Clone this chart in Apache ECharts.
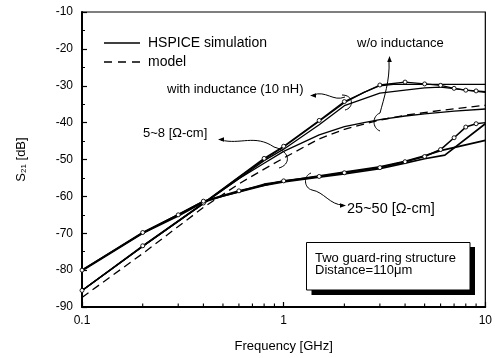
<!DOCTYPE html>
<html>
<head>
<meta charset="utf-8">
<script src="https://cdn.jsdelivr.net/npm/echarts@6/dist/echarts.min.js"></script>
<style>
html,body{margin:0;padding:0;background:#fff;}
#c{width:495px;height:358px;}
</style>
</head>
<body>
<div id="c"></div>
<script>
// ---- data (frequency in GHz, S21 in dB) ----
const legendNames = ['HSPICE simulation', 'model'];
const yTicks = [-90, -80, -70, -60, -50, -40, -30, -20, -10];
const xMinorTickValues = [0.2, 0.3, 0.4, 0.5, 0.6, 0.7, 0.8, 0.9, 2, 3, 4, 5, 6, 7, 8, 9];

// 5~8 ohm-cm, with inductance (flat top)
const fL2 = [0.1, 0.2, 0.4, 0.6, 0.8, 1, 1.5, 2, 2.5, 3, 3.5, 4, 6, 10];
const sL2 = [-85.5, -73.6, -61.9, -54.8, -50.0, -46.6, -39.6, -34.6, -31.8, -30.0, -29.6, -29.6, -29.6, -29.6];
// 5~8 ohm-cm, model without inductance (dashed)
const fModel = [0.1, 0.2, 0.4, 0.6, 0.8, 1, 1.5, 2, 3, 4, 6, 10];
const sModel = [-87.4, -75.5, -63.0, -56.6, -52.6, -49.6, -44.4, -41.8, -39.3, -38.0, -36.7, -35.3];
// 5~8 ohm-cm, with inductance (peaked, circles)
const fL1 = [0.1, 0.2, 0.4, 0.8, 1, 1.5, 2, 3, 4, 5, 6, 7, 8, 9];
const sL1 = [-85.5, -73.4, -61.8, -49.7, -46.4, -39.4, -34.3, -29.8, -29.0, -29.5, -29.9, -30.7, -31.2, -31.4];
const fL1end = [9, 10];
const sL1end = [-31.4, -31.6];
// 5~8 ohm-cm, with inductance (lower)
const fL3 = [0.1, 0.2, 0.4, 0.8, 1, 1.5, 2, 3, 4, 5, 6, 7, 8, 10];
const sL3 = [-85.6, -73.6, -62.0, -50.3, -47.2, -40.6, -35.4, -32.0, -31.2, -30.6, -30.4, -30.8, -31.2, -31.8];
// 5~8 ohm-cm, without inductance (solid)
const fW = [0.1, 0.2, 0.4, 0.6, 0.8, 1, 1.5, 2, 2.5, 3, 4, 5, 7, 10];
const sW = [-85.5, -73.5, -61.9, -55.2, -51.0, -47.8, -43.3, -41.1, -40.0, -39.2, -38.2, -37.6, -36.9, -36.3];
// 25~50 ohm-cm (circles)
const fB1 = [0.1, 0.2, 0.3, 0.4, 0.6, 1, 1.5, 2, 3, 4, 5, 6, 7, 8, 9];
const sB1 = [-80.0, -69.8, -65.0, -61.3, -58.5, -55.8, -54.6, -53.6, -52.2, -50.6, -49.2, -47.3, -44.1, -41.2, -40.3];
const fB1end = [9, 10];
const sB1end = [-40.3, -40.0];
// 25~50 ohm-cm
const fB2 = [0.1, 0.2, 0.3, 0.4, 0.5, 0.6, 0.8, 1, 1.5, 2, 3, 4, 5, 6.3, 10];
const sB2 = [-80.2, -70.0, -65.3, -61.6, -59.9, -58.8, -57.0, -56.1, -54.8, -53.9, -52.5, -51.0, -49.8, -48.8, -40.3];
const fB3 = [0.1, 0.2, 0.4, 0.6, 0.8, 1, 2, 3, 4, 5, 6, 10];
const sB3 = [-80.0, -69.9, -61.4, -58.7, -56.7, -55.9, -53.4, -52.0, -50.5, -49.0, -47.6, -44.8];

function zip(f, s) { return f.map((v, i) => [v, s[i]]); }

const FONT = '"Liberation Sans", Arial, sans-serif';
const chart = echarts.init(document.getElementById('c'), null, {renderer: 'canvas'});

const solid = (name, data, opts) => Object.assign({
  type: 'line', name: name, data: data, symbol: 'none', smooth: false,
  lineStyle: {color: '#000', width: 1.3, type: 'solid'},
  itemStyle: {color: '#fff', borderColor: '#000', borderWidth: 0.9},
  z: 3, silent: true
}, opts || {});
const circles = {symbol: 'circle', symbolSize: 4, showSymbol: true};

const legendSolidIcon = 'path://M0,0h36v1.5h-36z';
const legendDashIcon = 'path://M0,0h8v1.5h-8z M14,0h8v1.5h-8z M28,0h8v1.5h-8z';
const legendStyle = {color: '#000', borderColor: '#000', borderWidth: 0};

chart.setOption({
  animation: false,
  backgroundColor: '#fff',
  grid: {left: 82, right: 7, top: 12, bottom: 48, show: true, borderColor: '#000', borderWidth: 1.2, backgroundColor: 'transparent'},
  legend: {
    data: [
      {name: legendNames[0], icon: legendSolidIcon, itemStyle: legendStyle},
      {name: legendNames[1], icon: legendDashIcon, itemStyle: legendStyle}
    ],
    left: 99, top: 31, orient: 'vertical', itemWidth: 36, itemHeight: 14, itemGap: 5, symbolKeepAspect: true,
    itemStyle: legendStyle, lineStyle: {width: 0},
    textStyle: {fontFamily: FONT, fontSize: 14, color: '#000', padding: [0, 0, 0, 3]},
    selectedMode: false
  },
  xAxis: {
    type: 'log', logBase: 10, min: 0.1, max: 10,
    name: 'Frequency [GHz]', nameLocation: 'middle', nameGap: 33,
    nameTextStyle: {fontFamily: FONT, fontSize: 13, color: '#000'},
    axisLine: {lineStyle: {color: '#000', width: 1.8}},
    axisTick: {inside: true, length: 5, lineStyle: {color: '#000', width: 1.2}},
    axisLabel: {fontFamily: FONT, fontSize: 12, color: '#000', margin: 8},
    splitLine: {show: false}, minorTick: {show: false}
  },
  yAxis: {
    type: 'value', min: yTicks[0], max: yTicks[yTicks.length - 1], interval: 10,
    name: 'S{sub|21} [dB]', nameLocation: 'middle', nameGap: 54, nameRotate: 90,
    nameTextStyle: {fontFamily: FONT, fontSize: 13, color: '#000',
      rich: {sub: {fontFamily: FONT, fontSize: 8, color: '#000', verticalAlign: 'bottom', padding: [6, 0, 0, 0]}}},
    axisLine: {lineStyle: {color: '#000', width: 2}},
    axisTick: {inside: true, length: 5, lineStyle: {color: '#000', width: 1.2}},
    minorTick: {show: true, splitNumber: 2, length: 3, lineStyle: {color: '#000', width: 1}},
    axisLabel: {fontFamily: FONT, fontSize: 12, color: '#000', margin: 9},
    splitLine: {show: false}
  },
  series: [
    solid(legendNames[0], zip(fL2, sL2)),
    solid(legendNames[1], zip(fModel, sModel), {lineStyle: {color: '#000', width: 1.3, type: [8, 5]}}),
    solid(legendNames[0], zip(fL1, sL1), circles),
    solid(legendNames[0], zip(fL1end, sL1end)),
    solid(legendNames[0], zip(fL3, sL3)),
    solid(legendNames[0], zip(fW, sW)),
    solid(legendNames[0], zip(fB2, sB2), {lineStyle: {color: '#000', width: 1.7}}),
    solid(legendNames[0], zip(fB3, sB3), {lineStyle: {color: '#000', width: 1.7}}),
    solid(legendNames[0], zip(fB1, sB1), Object.assign({lineStyle: {color: '#000', width: 1.6}}, circles)),
    solid(legendNames[0], zip(fB1end, sB1end), {lineStyle: {color: '#000', width: 1.5}})
  ]
});

// ---- decorations: minor log ticks, annotations, arrows, box ----
const g = [];
const yBottom = chart.convertToPixel({yAxisIndex: 0}, yTicks[0]);
xMinorTickValues.forEach(v => {
  const x = chart.convertToPixel({xAxisIndex: 0}, v);
  g.push({type: 'line', shape: {x1: x, y1: yBottom, x2: x, y2: yBottom - 3.5}, style: {stroke: '#000', lineWidth: 1.1}, z: 10});
});

function txt(x, y, s, size) {
  g.push({type: 'text', x: x, y: y, z: 20,
    style: {text: s, fontFamily: FONT, fontSize: size, fill: '#000', verticalAlign: 'middle', align: 'left'}});
}
function curve(p, lw) {
  g.push({type: 'bezierCurve', z: 15, shape: {x1: p[0], y1: p[1], cpx1: p[2], cpy1: p[3], cpx2: p[4], cpy2: p[5], x2: p[6], y2: p[7]},
    style: {stroke: '#000', lineWidth: lw || 1, fill: null}});
}
function head(x, y, ang) {
  const L = 6, W = 2.3;
  const c = Math.cos(ang), s = Math.sin(ang);
  const bx = x - L * c, by = y - L * s;
  g.push({type: 'polygon', z: 16, shape: {points: [[x, y], [bx - W * s, by + W * c], [bx + W * s, by - W * c]]}, style: {fill: '#000'}});
}

txt(167, 89, 'with inductance (10 nH)', 13);
txt(357, 43, 'w/o inductance', 13);
txt(143, 133, '5~8 [\u03A9-cm]', 13);
txt(347, 209, '25~50 [\u03A9-cm]', 14.5);

// with inductance arrow + bracket
curve([313, 95, 326, 90, 333, 102, 345, 97]);
head(310, 95.5, Math.PI);
curve([342, 95, 354, 95, 354, 108, 345, 110]);
// w/o inductance arrow + bracket
curve([389, 61, 390, 80, 384, 98, 380, 113]);
head(389.5, 56, -Math.PI / 2);
curve([380, 113, 372, 116, 372, 128, 380, 131]);
// 5~8 arrow + bracket
curve([221, 140, 240, 145, 255, 134, 274, 147]);
head(218, 139.5, Math.PI);
curve([274, 147, 292, 152, 290, 165, 279, 168]);
// 25~50 arrow + bracket
curve([311, 173, 303, 176, 304, 188, 312, 190]);
curve([312, 190, 324, 192, 330, 205, 343, 205]);
head(346, 205.5, 0);

// box with shadow
g.push({type: 'rect', z: 18, shape: {x: 311.5, y: 247, width: 163.5, height: 48}, style: {fill: '#000'}});
g.push({type: 'rect', z: 19, shape: {x: 306.5, y: 242.5, width: 163.5, height: 47.5}, style: {fill: '#fff', stroke: '#000', lineWidth: 1}});
txt(315, 258.5, 'Two guard-ring structure', 13);
txt(315, 270.5, 'Distance=110\u03BCm', 13);

chart.setOption({graphic: g});
</script>
</body>
</html>
